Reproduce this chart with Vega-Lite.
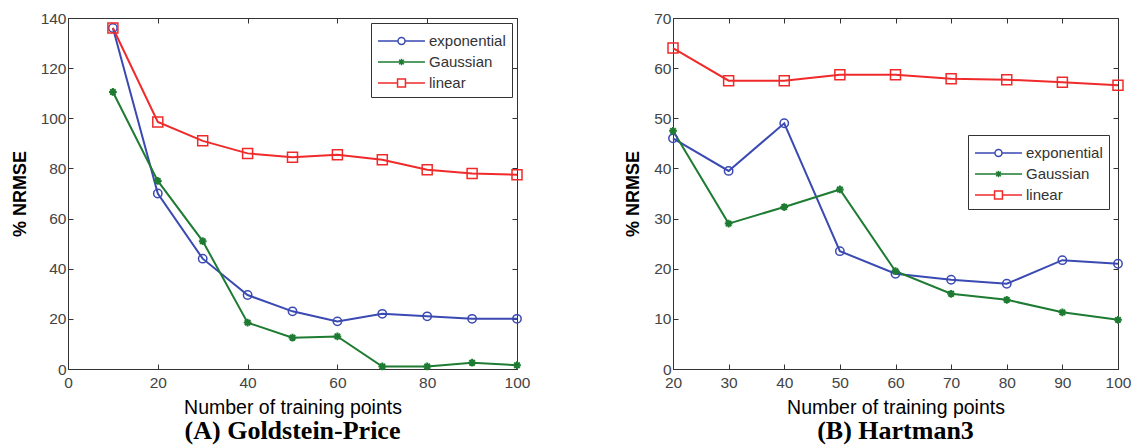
{
  "$schema": "https://vega.github.io/schema/vega-lite/v6.json",
  "background": "white",
  "padding": {"left": 10, "top": 10, "right": 10, "bottom": 2},
  "datasets": {
    "gp": [
      {"n": 10, "model": "exponential", "v": 136},
      {"n": 20, "model": "exponential", "v": 70},
      {"n": 30, "model": "exponential", "v": 44},
      {"n": 40, "model": "exponential", "v": 29.5},
      {"n": 50, "model": "exponential", "v": 23},
      {"n": 60, "model": "exponential", "v": 19},
      {"n": 70, "model": "exponential", "v": 22},
      {"n": 80, "model": "exponential", "v": 21},
      {"n": 90, "model": "exponential", "v": 20},
      {"n": 100, "model": "exponential", "v": 20},
      {"n": 10, "model": "Gaussian", "v": 110.5},
      {"n": 20, "model": "Gaussian", "v": 75},
      {"n": 30, "model": "Gaussian", "v": 51},
      {"n": 40, "model": "Gaussian", "v": 18.5},
      {"n": 50, "model": "Gaussian", "v": 12.5},
      {"n": 60, "model": "Gaussian", "v": 13},
      {"n": 70, "model": "Gaussian", "v": 1},
      {"n": 80, "model": "Gaussian", "v": 1},
      {"n": 90, "model": "Gaussian", "v": 2.5},
      {"n": 100, "model": "Gaussian", "v": 1.5},
      {"n": 10, "model": "linear", "v": 136},
      {"n": 20, "model": "linear", "v": 98.5},
      {"n": 30, "model": "linear", "v": 91},
      {"n": 40, "model": "linear", "v": 86},
      {"n": 50, "model": "linear", "v": 84.5},
      {"n": 60, "model": "linear", "v": 85.5},
      {"n": 70, "model": "linear", "v": 83.5},
      {"n": 80, "model": "linear", "v": 79.5},
      {"n": 90, "model": "linear", "v": 78},
      {"n": 100, "model": "linear", "v": 77.5}
    ],
    "h3": [
      {"n": 20, "model": "exponential", "v": 46},
      {"n": 30, "model": "exponential", "v": 39.5},
      {"n": 40, "model": "exponential", "v": 49},
      {"n": 50, "model": "exponential", "v": 23.5},
      {"n": 60, "model": "exponential", "v": 19},
      {"n": 70, "model": "exponential", "v": 17.8},
      {"n": 80, "model": "exponential", "v": 17},
      {"n": 90, "model": "exponential", "v": 21.7},
      {"n": 100, "model": "exponential", "v": 21},
      {"n": 20, "model": "Gaussian", "v": 47.5},
      {"n": 30, "model": "Gaussian", "v": 29},
      {"n": 40, "model": "Gaussian", "v": 32.3},
      {"n": 50, "model": "Gaussian", "v": 35.8},
      {"n": 60, "model": "Gaussian", "v": 19.5},
      {"n": 70, "model": "Gaussian", "v": 15},
      {"n": 80, "model": "Gaussian", "v": 13.8},
      {"n": 90, "model": "Gaussian", "v": 11.3},
      {"n": 100, "model": "Gaussian", "v": 9.8},
      {"n": 20, "model": "linear", "v": 64},
      {"n": 30, "model": "linear", "v": 57.5},
      {"n": 40, "model": "linear", "v": 57.5},
      {"n": 50, "model": "linear", "v": 58.7},
      {"n": 60, "model": "linear", "v": 58.7},
      {"n": 70, "model": "linear", "v": 57.9},
      {"n": 80, "model": "linear", "v": 57.7},
      {"n": 90, "model": "linear", "v": 57.2},
      {"n": 100, "model": "linear", "v": 56.6}
    ]
  },
  "config": {
    "view": {"stroke": "#333", "strokeWidth": 1},
    "axis": {
      "grid": false,
      "labelFont": "Liberation Sans",
      "labelFontSize": 15.5,
      "labelColor": "#444",
      "labelFlush": false,
      "titleFont": "Liberation Sans",
      "titleFontSize": 19.5,
      "titleFontWeight": "normal",
      "titleColor": "#000",
      "domainColor": "#333",
      "tickColor": "#333",
      "tickSize": -5
    },
    "legend": {
      "labelFont": "Liberation Sans",
      "labelFontSize": 15,
      "labelColor": "#333",
      "strokeColor": "#333",
      "fillColor": "white",
      "padding": 6,
      "rowPadding": 1,
      "symbolSize": 484,
      "symbolStrokeWidth": 1.5,
      "labelOffset": 28
    }
  },
  "hconcat": [
    {
      "width": 449,
      "height": 351,
      "data": {"name": "gp"},
      "title": {"text": "(A) Goldstein-Price", "orient": "bottom", "font": "Liberation Serif", "fontSize": 26, "fontWeight": "bold", "color": "#000", "offset": 1},
      "layer": [
        {
          "mark": {"type": "line", "strokeWidth": 2},
          "encoding": {
            "x": {"field": "n", "type": "quantitative", "scale": {"domain": [0, 100], "nice": false}, "axis": {"values": [0, 20, 40, 60, 80, 100], "title": "Number of training points", "titlePadding": 8, "labelPadding": 11}},
            "y": {"field": "v", "type": "quantitative", "scale": {"domain": [0, 140], "nice": false}, "axis": {"values": [0, 20, 40, 60, 80, 100, 120, 140], "title": "% NRMSE", "titlePadding": 11, "labelPadding": 7, "titleFontWeight": "bold", "titleFontSize": 18}},
            "color": {
              "field": "model", "type": "nominal",
              "scale": {"domain": ["exponential", "Gaussian", "linear"], "range": ["#3a4ab2", "#1e7b32", "#f02a2a"]},
              "legend": {
                "title": null, "orient": "top-right", "offset": 5,
                "encode": {"symbols": {"update": {"shape": {"signal": "datum.value == 'exponential' ? 'M-1,0L0.816,0M1.456,0L3.27,0M1.456,0A0.32,0.32,0,1,1,0.816,0A0.32,0.32,0,1,1,1.456,0' : datum.value == 'Gaussian' ? 'M-1,0L3.27,0M1.136,-0.3L1.136,0.3M0.92,-0.21L1.35,0.21M0.92,0.21L1.35,-0.21' : 'M-1,0L0.776,0M1.496,0L3.27,0M0.776,-0.36L1.496,-0.36L1.496,0.36L0.776,0.36Z'"}, "fill": {"value": "transparent"}}}}
              }
            }
          }
        },
        {
          "transform": [{"filter": "datum.model == 'exponential'"}],
          "mark": {"type": "point", "shape": "circle", "filled": false, "strokeWidth": 1.5, "size": 70, "opacity": 1},
          "encoding": {
            "x": {"field": "n", "type": "quantitative", "scale": {"domain": [0, 100], "nice": false}, "axis": {"orient": "top", "values": [0, 20, 40, 60, 80, 100], "labels": false, "title": null, "domain": false}},
            "y": {"field": "v", "type": "quantitative", "scale": {"domain": [0, 140], "nice": false}, "axis": {"orient": "right", "values": [0, 20, 40, 60, 80, 100, 120, 140], "labels": false, "title": null, "domain": false}},
            "color": {"field": "model", "type": "nominal", "legend": null}
          }
        },
        {
          "transform": [{"filter": "datum.model == 'Gaussian'"}],
          "mark": {"type": "point", "shape": "M-1,0L1,0M0,-1L0,1M-0.7,-0.7L0.7,0.7M-0.7,0.7L0.7,-0.7", "filled": false, "strokeWidth": 2, "size": 60, "opacity": 1},
          "encoding": {
            "x": {"field": "n", "type": "quantitative", "scale": {"domain": [0, 100], "nice": false}, "axis": null},
            "y": {"field": "v", "type": "quantitative", "scale": {"domain": [0, 140], "nice": false}, "axis": null},
            "color": {"field": "model", "type": "nominal", "legend": null}
          }
        },
        {
          "transform": [{"filter": "datum.model == 'linear'"}],
          "mark": {"type": "point", "shape": "square", "filled": false, "strokeWidth": 1.5, "size": 100, "opacity": 1},
          "encoding": {
            "x": {"field": "n", "type": "quantitative", "scale": {"domain": [0, 100], "nice": false}, "axis": null},
            "y": {"field": "v", "type": "quantitative", "scale": {"domain": [0, 140], "nice": false}, "axis": null},
            "color": {"field": "model", "type": "nominal", "legend": null}
          }
        }
      ],
      "resolve": {"axis": {"x": "independent", "y": "independent"}}
    },
    {
      "width": 445,
      "height": 351,
      "data": {"name": "h3"},
      "title": {"text": "(B) Hartman3", "orient": "bottom", "font": "Liberation Serif", "fontSize": 26, "fontWeight": "bold", "color": "#000", "offset": 1},
      "layer": [
        {
          "mark": {"type": "line", "strokeWidth": 2},
          "encoding": {
            "x": {"field": "n", "type": "quantitative", "scale": {"domain": [20, 100], "nice": false, "zero": false}, "axis": {"values": [20, 30, 40, 50, 60, 70, 80, 90, 100], "title": "Number of training points", "titlePadding": 8, "labelPadding": 11}},
            "y": {"field": "v", "type": "quantitative", "scale": {"domain": [0, 70], "nice": false}, "axis": {"values": [0, 10, 20, 30, 40, 50, 60, 70], "title": "% NRMSE", "titlePadding": 11, "labelPadding": 7, "titleFontWeight": "bold", "titleFontSize": 18}},
            "color": {
              "field": "model", "type": "nominal",
              "scale": {"domain": ["exponential", "Gaussian", "linear"], "range": ["#3a4ab2", "#1e7b32", "#f02a2a"]},
              "legend": {
                "title": null, "orient": "none", "legendX": 295, "legendY": 117,
                "encode": {"symbols": {"update": {"shape": {"signal": "datum.value == 'exponential' ? 'M-1,0L0.816,0M1.456,0L3.27,0M1.456,0A0.32,0.32,0,1,1,0.816,0A0.32,0.32,0,1,1,1.456,0' : datum.value == 'Gaussian' ? 'M-1,0L3.27,0M1.136,-0.3L1.136,0.3M0.92,-0.21L1.35,0.21M0.92,0.21L1.35,-0.21' : 'M-1,0L0.776,0M1.496,0L3.27,0M0.776,-0.36L1.496,-0.36L1.496,0.36L0.776,0.36Z'"}, "fill": {"value": "transparent"}}}}
              }
            }
          }
        },
        {
          "transform": [{"filter": "datum.model == 'exponential'"}],
          "mark": {"type": "point", "shape": "circle", "filled": false, "strokeWidth": 1.5, "size": 70, "opacity": 1},
          "encoding": {
            "x": {"field": "n", "type": "quantitative", "scale": {"domain": [20, 100], "nice": false, "zero": false}, "axis": {"orient": "top", "values": [20, 30, 40, 50, 60, 70, 80, 90, 100], "labels": false, "title": null, "domain": false}},
            "y": {"field": "v", "type": "quantitative", "scale": {"domain": [0, 70], "nice": false}, "axis": {"orient": "right", "values": [0, 10, 20, 30, 40, 50, 60, 70], "labels": false, "title": null, "domain": false}},
            "color": {"field": "model", "type": "nominal", "legend": null}
          }
        },
        {
          "transform": [{"filter": "datum.model == 'Gaussian'"}],
          "mark": {"type": "point", "shape": "M-1,0L1,0M0,-1L0,1M-0.7,-0.7L0.7,0.7M-0.7,0.7L0.7,-0.7", "filled": false, "strokeWidth": 2, "size": 60, "opacity": 1},
          "encoding": {
            "x": {"field": "n", "type": "quantitative", "scale": {"domain": [20, 100], "nice": false, "zero": false}, "axis": null},
            "y": {"field": "v", "type": "quantitative", "scale": {"domain": [0, 70], "nice": false}, "axis": null},
            "color": {"field": "model", "type": "nominal", "legend": null}
          }
        },
        {
          "transform": [{"filter": "datum.model == 'linear'"}],
          "mark": {"type": "point", "shape": "square", "filled": false, "strokeWidth": 1.5, "size": 100, "opacity": 1},
          "encoding": {
            "x": {"field": "n", "type": "quantitative", "scale": {"domain": [20, 100], "nice": false, "zero": false}, "axis": null},
            "y": {"field": "v", "type": "quantitative", "scale": {"domain": [0, 70], "nice": false}, "axis": null},
            "color": {"field": "model", "type": "nominal", "legend": null}
          }
        }
      ],
      "resolve": {"axis": {"x": "independent", "y": "independent"}}
    }
  ],
  "spacing": 93,
  "resolve": {"scale": {"color": "independent"}, "legend": {"color": "independent"}}
}
